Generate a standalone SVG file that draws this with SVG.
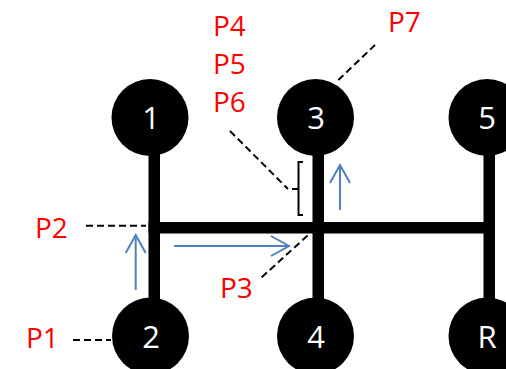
<svg xmlns="http://www.w3.org/2000/svg" width="506" height="369" viewBox="0 0 506 369">
<style>
.gear{fill:#000}
.num{fill:#fff;font-family:"Open Sans","DejaVu Sans",sans-serif;font-size:31px;text-anchor:middle}
.lbl{fill:#ff0000;font-family:"Open Sans","DejaVu Sans",sans-serif;font-size:28px}
.bar{fill:#000}
.lead{stroke:#000;stroke-width:2;stroke-dasharray:7,4;fill:none}
.move{stroke:#4f81bd;stroke-width:2;fill:none;marker-end:url(#chev)}
</style>
<defs>
<marker id="chev" markerUnits="userSpaceOnUse" markerWidth="24" markerHeight="24" viewBox="-20 -12 24 24" refX="0" refY="0" orient="auto">
<path d="M-18,-10 L0,0 L-18,10" fill="none" stroke="#4f81bd" stroke-width="2"/>
</marker>
</defs>
<g id="connectors">
<rect class="bar" x="148.5" y="150" width="11.5" height="152"/>
<rect class="bar" x="312.5" y="150" width="11.5" height="152"/>
<rect class="bar" x="483.5" y="150" width="11.5" height="152"/>
<rect class="bar" x="148.5" y="222" width="346.5" height="11.5"/>
</g>
<g id="gear1"><circle class="gear" cx="150" cy="117.5" r="38.5"/><text class="num" x="151" y="129">1</text></g>
<g id="gear3"><circle class="gear" cx="315.5" cy="117.5" r="38.5"/><text class="num" x="316" y="129">3</text></g>
<g id="gear5"><circle class="gear" cx="487" cy="117.5" r="38.5"/><text class="num" x="487" y="129">5</text></g>
<g id="gear2"><circle class="gear" cx="150.5" cy="336" r="38.5"/><text class="num" x="151" y="348">2</text></g>
<g id="gear4"><circle class="gear" cx="315.5" cy="336" r="38.5"/><text class="num" x="316" y="348">4</text></g>
<g id="gearR"><circle class="gear" cx="487" cy="336" r="38.5"/><text class="num" x="487" y="348">R</text></g>
<g id="movements">
<line class="move" x1="135.7" y1="290" x2="135.7" y2="235"/>
<line class="move" x1="174" y1="246" x2="289" y2="246"/>
<line class="move" x1="340" y1="210" x2="340" y2="165"/>
</g>
<g id="leaders">
<line class="lead" x1="73" y1="340" x2="111" y2="340"/>
<line class="lead" x1="86" y1="225.7" x2="146" y2="225.7"/>
<line class="lead" x1="261.7" y1="277.3" x2="309.3" y2="234"/>
<line class="lead" x1="230" y1="131" x2="288" y2="189"/>
<line class="lead" x1="338.3" y1="80" x2="375" y2="45"/>
<path d="M303,162 H298.5 V189 H292 M298.5,189 V215 H303" fill="none" stroke="#000" stroke-width="2"/>
</g>
<g id="labels">
<text class="lbl" x="213" y="36">P4</text>
<text class="lbl" x="213" y="74">P5</text>
<text class="lbl" x="213" y="112">P6</text>
<text class="lbl" x="388" y="32">P7</text>
<text class="lbl" x="35" y="238">P2</text>
<text class="lbl" x="220" y="298">P3</text>
<text class="lbl" x="26" y="348">P1</text>
</g>
</svg>
